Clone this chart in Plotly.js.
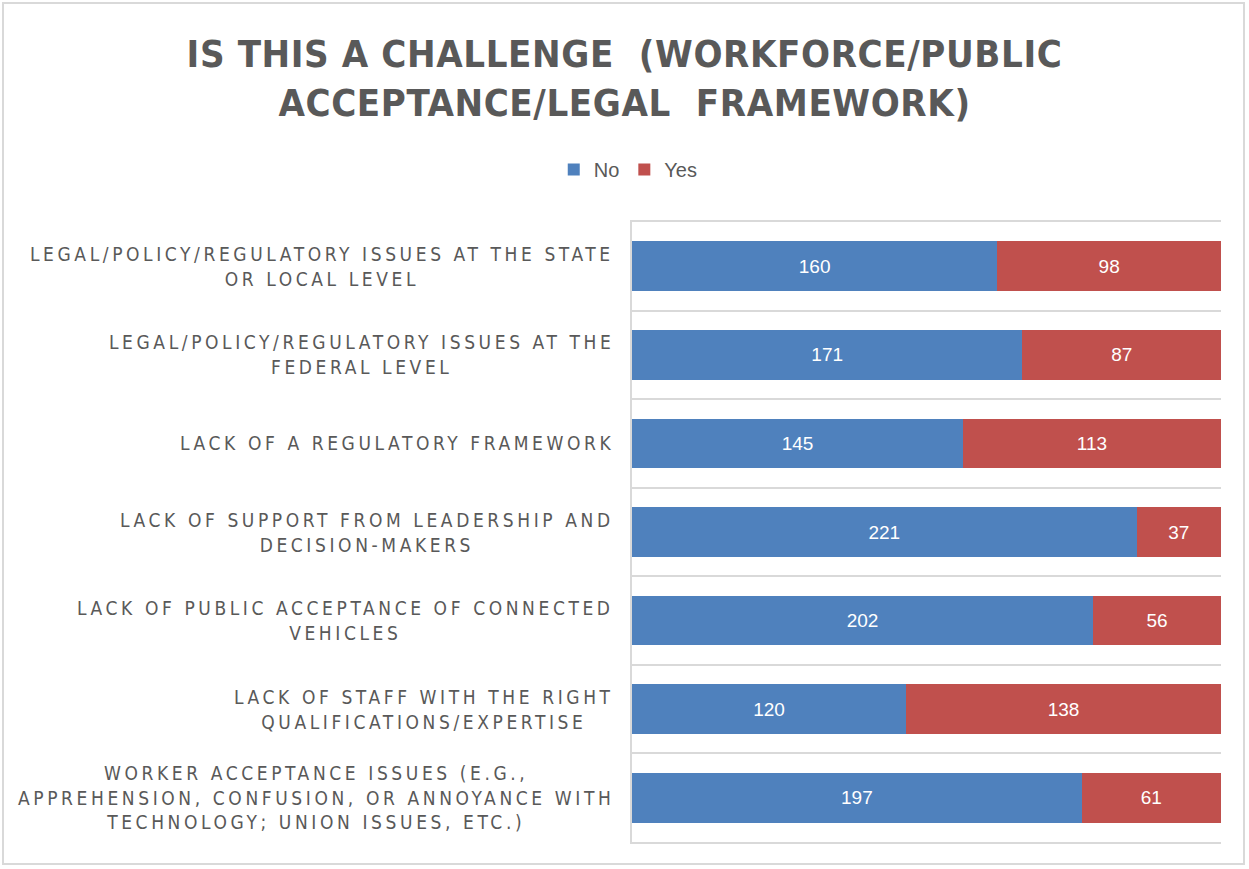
<!DOCTYPE html>
<html>
<head>
<meta charset="utf-8">
<script src="https://cdn.plot.ly/plotly-3.0.1.min.js"></script>
<style>
  html, body { margin: 0; padding: 0; background: #fff; }
  #wrap { position: relative; width: 1249px; height: 869px; }
  #chart { width: 1249px; height: 869px; }
  #frame { position: absolute; left: 2px; top: 2px; width: 1243px; height: 863px;
           border: 2px solid #d9d9d9; pointer-events: none; box-sizing: border-box; }
  .annotation-text { letter-spacing: 3.6px; }
  .gtitle { letter-spacing: 0.6px; }
</style>
</head>
<body>
<div id="wrap">
  <div id="chart"></div>
  <div id="frame"></div>
</div>
<script>
// Categories, top to bottom
const categories = [
  "LEGAL/POLICY/REGULATORY ISSUES AT THE STATE<br>OR LOCAL LEVEL",
  "LEGAL/POLICY/REGULATORY ISSUES AT THE<br>FEDERAL LEVEL",
  "LACK OF A REGULATORY FRAMEWORK",
  "LACK OF SUPPORT FROM LEADERSHIP AND<br>DECISION-MAKERS",
  "LACK OF PUBLIC ACCEPTANCE OF CONNECTED<br>VEHICLES",
  "LACK OF STAFF WITH THE RIGHT<br>QUALIFICATIONS/EXPERTISE",
  "WORKER ACCEPTANCE ISSUES (E.G.,<br>APPREHENSION, CONFUSION, OR ANNOYANCE WITH<br>TECHNOLOGY; UNION ISSUES, ETC.)"
];
const noValues  = [160, 171, 145, 221, 202, 120, 197];
const yesValues = [98, 87, 113, 37, 56, 138, 61];
const seriesNames = ["No", "Yes"];
const totals = noValues.map((v, i) => v + yesValues[i]);
const maxTotal = Math.max.apply(null, totals);

const labelFont = "'Liberation Sans Narrow', 'Arial Narrow', 'DejaVu Sans Condensed', sans-serif";
const grey = "#595959";

const traceBase = {
  type: "bar",
  orientation: "h",
  y: categories,
  texttemplate: "%{x}",
  textposition: "inside",
  insidetextanchor: "middle",
  textangle: 0,
  textfont: { color: "#ffffff", size: 19, family: "'Liberation Sans', Arial, sans-serif" },
  hoverinfo: "x+name"
};

const data = [
  Object.assign({}, traceBase, { name: seriesNames[0], x: noValues,  marker: { color: "#4F81BD" } }),
  Object.assign({}, traceBase, { name: seriesNames[1], x: yesValues, marker: { color: "#C0504D" } })
];

const annotations = categories.map(c => ({
  xref: "paper", yref: "y",
  x: -0.028, y: c,
  xanchor: "right", yanchor: "middle",
  align: "center",
  text: c,
  showarrow: false,
  font: { family: labelFont, size: 19, color: grey }
}));

const layout = {
  width: 1249, height: 869,
  paper_bgcolor: "#ffffff",
  plot_bgcolor: "#ffffff",
  margin: { l: 632, r: 28, t: 222, b: 27 },
  barmode: "stack",
  bargap: 0.44,
  showlegend: true,
  title: {
    text: "IS THIS A CHALLENGE  (WORKFORCE/PUBLIC<br>ACCEPTANCE/LEGAL  FRAMEWORK)",
    x: 0.5, xref: "container", xanchor: "center",
    y: 0.923, yref: "container", yanchor: "middle",
    font: { family: labelFont, size: 38, color: grey, weight: "bold" }
  },
  legend: {
    orientation: "h",
    xref: "container", yref: "container",
    x: 0.503, xanchor: "center",
    y: 0.805, yanchor: "middle",
    font: { family: "'Liberation Sans Narrow', 'Arial Narrow', sans-serif", size: 20, color: grey },
    itemwidth: 30,
    traceorder: "normal"
  },
  xaxis: {
    range: [0, maxTotal],
    showticklabels: false,
    showgrid: false,
    zeroline: false,
    showline: true,
    mirror: true,
    linecolor: "#d9d9d9",
    linewidth: 2,
    ticks: "",
    fixedrange: true
  },
  yaxis: {
    type: "category",
    autorange: "reversed",
    showticklabels: false,
    tickson: "boundaries",
    showgrid: true,
    gridcolor: "#d9d9d9",
    gridwidth: 2,
    showline: true,
    linecolor: "#d9d9d9",
    linewidth: 2,
    ticks: "",
    zeroline: false
  },
  annotations: annotations
};

Plotly.newPlot("chart", data, layout, { displayModeBar: false, staticPlot: true });
</script>
</body>
</html>
